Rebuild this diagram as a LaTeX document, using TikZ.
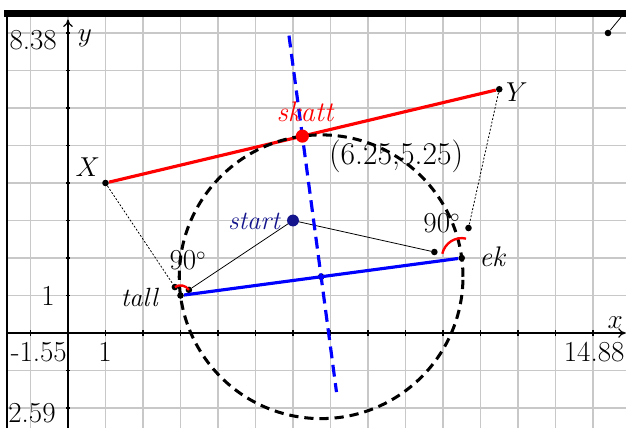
\documentclass[tikz,border=0pt]{standalone}
\usepackage{fontspec}
\usepackage{tikz}
\usetikzlibrary{arrows.meta,positioning}
\definecolor{gridgray}{RGB}{200,200,200}
\definecolor{startblue}{RGB}{20,20,140}
\tikzset{
  grid line/.style={gridgray, line width=1.1pt},
  axis line/.style={-{To[length=2mm,width=2.6mm]}, line width=0.9pt},
  tick line/.style={line width=0.8pt},
  frame line/.style={line width=5.3pt},
  route line/.style={line width=2.4pt},
  thales circle/.style={line width=2.3pt, dash pattern=on 7pt off 4.5pt},
  bisector line/.style={blue, line width=2.4pt, dash pattern=on 9pt off 5pt},
  helper line/.style={line width=0.6pt},
  helper dotted/.style={line width=0.6pt, dash pattern=on 1.5pt off 1.3pt},
  small dot/.style={circle, fill=black, inner sep=0pt, minimum size=5pt},
  angle arc/.style={red, line width=1.8pt},
  point label/.style={font=\fontsize{20}{24}\selectfont\itshape},
  big label/.style={font=\fontsize{21.5}{25}\selectfont\itshape},
  axis label/.style={font=\fontsize{22}{26}\selectfont}
}

\begin{document}
\begin{tikzpicture}
    \useasboundingbox (-1.813,-2.507) rectangle (14.88,8.88);
    % grid
    \begin{scope}
      \clip (-1.627,-2.6) rectangle (14.88,8.45);
      \foreach \gx in {-1,...,14} \draw[grid line] (\gx,-2.6) -- (\gx,8.45);
      \foreach \gy in {-2,...,8} \draw[grid line] (-1.7,\gy) -- (14.9,\gy);
    \end{scope}
    % axes
    \coordinate (xfrom) at (-1.627,0);
    \coordinate (xto) at (14.87,0);
    \coordinate (yfrom) at (0,-2.6);
    \coordinate (yto) at (0,8.36);
    \draw[axis line] (xfrom) -- (xto);
    \draw[axis line] (yfrom) -- (yto);
    \foreach \gx in {-1,1,2,...,14} \draw[tick line] (\gx,-0.07) -- (\gx,0.07);
    \foreach \gy in {-2,-1,1,2,...,8} \draw[tick line] (-0.05,\gy) -- (0.05,\gy);
    % window
    \draw[frame line] (-1.7,8.52) -- (14.9,8.52);
    \draw[line width=1.5pt] (-1.627,-2.6) -- (-1.627,8.6);
    \node[axis label] (ymax) at (-0.93,7.82) {8.38};
    \node[axis label] (ymin) at (-0.96,-2.13) {2.59};
    \node[axis label] (xmin) at (-0.78,-0.51) {-1.55};
    \node[axis label] (xmax) at (14.03,-0.51) {14.88};
    \node[axis label] (xone) at (0.99,-0.51) {1};
    \node[axis label] (yone) at (-0.53,0.99) {1};
    \node[axis label] (ylab) at (0.45,7.87) {$y$};
    \node[axis label] (xlab) at (14.59,0.29) {$x$};
    % points
    \node[small dot] (tall) at (3,1) {};
    \node[small dot] (ek) at (10.5,2) {};
    \node[small dot] (X) at (1,4) {};
    \node[small dot] (Y) at (11.5,6.5) {};
    \node[small dot] (mid) at (6.75,1.5) {};
    \node[small dot] (tallX) at (2.85,1.225) {};
    \node[small dot] (tallS) at (3.225,1.15) {};
    \node[small dot] (ekS) at (9.77,2.16) {};
    \node[small dot] (ekY) at (10.68,2.80) {};
    \node[small dot] (corner) at (14.4,8.0) {};
    \coordinate (cornerTo) at (14.85,8.55);
    \coordinate (bisTop) at (5.893,7.93);
    \coordinate (bisBot) at (7.16,-1.575);
    % route
    \draw[helper line] (6,3) -- (tallS);
    \draw[helper line] (6,3) -- (ekS);
    \draw[helper dotted] (X) -- (tallX);
    \draw[helper dotted] (Y) -- (ekY);
    \draw[helper line] (corner) -- (cornerTo);
    \draw[route line, red] (X) -- (Y);
    \draw[route line, blue] (tall) -- (ek);
    \draw[thales circle] (mid) circle (3.783);
    \draw[bisector line] (bisTop) -- (bisBot);
    \draw[angle arc] ([shift={(123.7:0.27)}]tall.center) arc[start angle=123.7, end angle=33.7, radius=0.27];
    \draw[angle arc] ([shift={(167.5:0.53)}]ek.center) arc[start angle=167.5, end angle=77.5, radius=0.53];
    \node[circle, fill=startblue, inner sep=0pt, minimum size=9pt] (start) at (6,3) {};
    \node[circle, fill=red, inner sep=0pt, minimum size=10pt] (skatt) at (6.25,5.25) {};
    % labels
    \node[big label] (Xlab) at (0.53,4.43) {$X$};
    \node[big label] (Ylab) at (11.97,6.43) {$Y$};
    \node[big label, text=red] (skattlab) at (6.32,5.9) {skatt};
    \node[axis label, font=\fontsize{24}{28}\selectfont] (skattxy) at (8.75,4.72) {$\Bigl($6.25,5.25$\Bigr)$};
    \node[point label, text=startblue] (startlab) at (4.96,2.98) {start};
    \node[point label] (talllab) at (1.9,0.95) {tall};
    \node[big label] (eklab) at (11.31,2.03) {ek};
    \node[axis label] (talldeg) at (3.2,1.93) {90$^\circ$};
    \node[axis label] (ekdeg) at (9.97,2.92) {90$^\circ$};
  \end{tikzpicture}
\end{document}
